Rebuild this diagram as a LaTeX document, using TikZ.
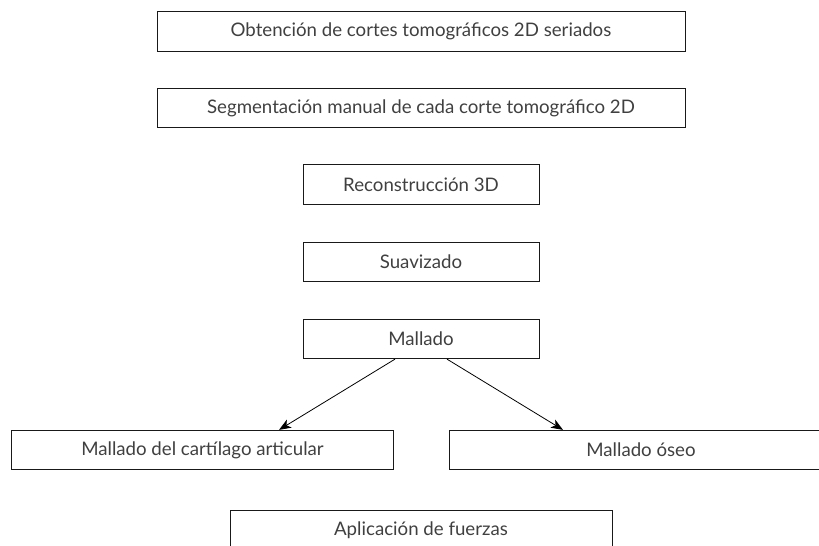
\documentclass[tikz,border=0pt]{standalone}
\usepackage{fontspec}
\setmainfont{Lato}
\usetikzlibrary{arrows.meta}
\begin{document}
\begin{tikzpicture}[x=0.75pt,y=-0.75pt,
    box/.style={draw=black!90,line width=0.7pt,text=black!75,inner sep=0pt,
      font=\fontsize{14}{16}\selectfont,minimum height=29.5pt},
    flow/.style={-{Stealth[length=9pt,width=7pt,inset=2.5pt]},line width=0.6pt}]
      \clip (0,0) rectangle (819,546);
      \draw
        (421,31.5) node[box,minimum width=396pt] (cortes){Obtención de cortes tomográficos 2D seriados}
        (421,108) node[box,minimum width=396pt] (segm){Segmentación manual de cada corte tomográfico 2D}
        (421,184.5) node[box,minimum width=177pt] (recon){Reconstrucción 3D}
        (421,262) node[box,minimum width=177pt] (suav){Suavizado}
        (421,339) node[box,minimum width=177pt] (mall){Mallado}
        (202.5,450) node[box,minimum width=286.5pt] (cart){Mallado del cartílago articular}
        (641,450) node[box,minimum width=288pt] (oseo){Mallado óseo}
        (421,530) node[box,minimum width=286.5pt] (fuerzas){Aplicación de fuerzas};
      \begin{scope}[flow]
        \draw ([xshift=-19.5pt]mall.south) to ([xshift=57.4pt]cart.north);
        \draw ([xshift=19.5pt]mall.south) to ([xshift=-58.5pt]oseo.north);
      \end{scope}
    \end{tikzpicture}
\end{document}
